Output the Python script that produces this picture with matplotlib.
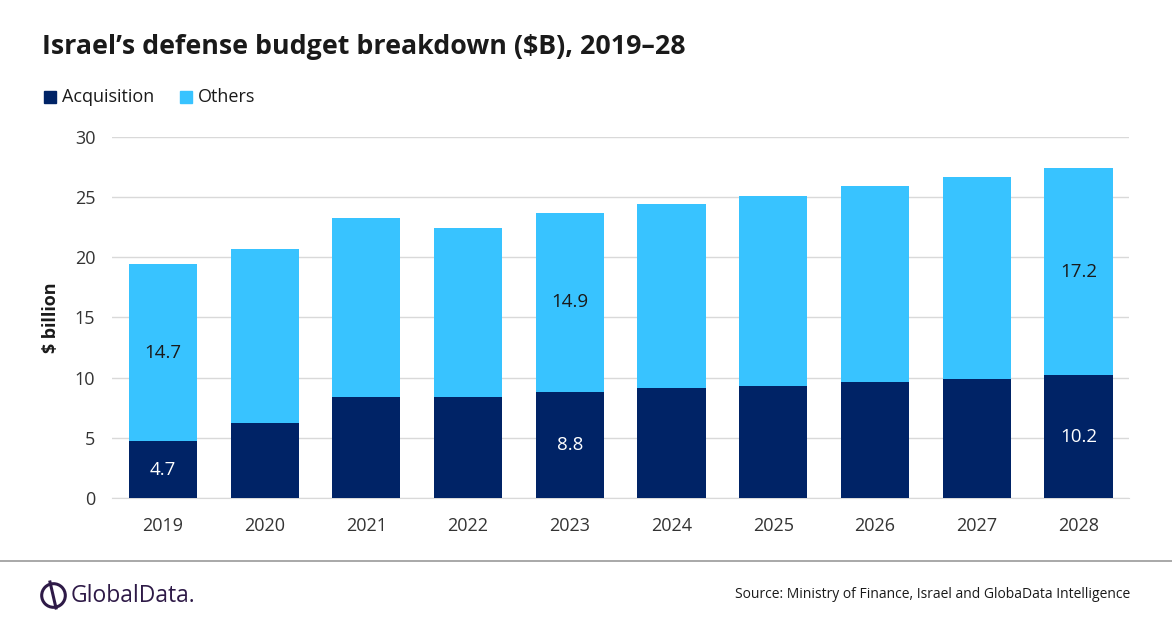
import matplotlib.pyplot as plt
import numpy as np
from matplotlib.lines import Line2D

plt.rcParams['font.family'] = ['Open Sans', 'DejaVu Sans']

years = ['2019', '2020', '2021', '2022', '2023', '2024', '2025', '2026', '2027', '2028']
acquisition = [4.7, 6.2, 8.4, 8.4, 8.8, 9.1, 9.3, 9.6, 9.9, 10.2]
others = [14.7, 14.5, 14.9, 14.0, 14.9, 15.3, 15.8, 16.3, 16.8, 17.2]
labelled = ['2019', '2023', '2028']

dark = '#002366'
light = '#38C3FF'
text_col = '#1a1a1a'

fig = plt.figure(figsize=(11.72, 6.28), dpi=100)
ax = fig.add_axes([0.0956, 0.207, 0.868, 0.575])

x = np.arange(len(years))
ax.bar(x, acquisition, width=0.67, color=dark, zorder=3)
ax.bar(x, others, width=0.67, bottom=acquisition, color=light, zorder=3)

for i, yr in enumerate(years):
    if yr in labelled:
        ax.text(x[i], acquisition[i] / 2, f'{acquisition[i]:.1f}', ha='center', va='center',
                color='white', fontsize=13.5, zorder=4)
        ax.text(x[i], acquisition[i] + others[i] / 2, f'{others[i]:.1f}', ha='center', va='center',
                color=text_col, fontsize=13.5, zorder=4)

ax.set_xlim(-0.5, len(years) - 0.5)
ax.set_ylim(0, 30)
ax.set_yticks(range(0, 31, 5))
ax.set_xticks(x)
ax.set_xticklabels(years)
ax.tick_params(axis='both', length=0, labelsize=13, colors='#333333')
ax.tick_params(axis='x', pad=14)
ax.tick_params(axis='y', pad=12)
ax.grid(axis='y', color='#d9d9d9', linewidth=1, zorder=0)
for s in ['top', 'right', 'left']:
    ax.spines[s].set_visible(False)
ax.spines['bottom'].set_color('#d9d9d9')
ax.set_ylabel('$ billion', fontsize=13, fontweight='bold', color=text_col, labelpad=11)

fig.text(0.036, 0.925, 'Israel\u2019s defense budget breakdown ($B), 2019\u201328',
         fontsize=19.3, fontweight='bold', color=text_col, va='center')

# legend
fig.patches.append(plt.Rectangle((44 / 1172, 1 - 103 / 628), 12 / 1172, 12 / 628,
                                 color=dark, transform=fig.transFigure, figure=fig))
fig.text(62 / 1172, 1 - 97 / 628, 'Acquisition', fontsize=13, color=text_col, va='center')
fig.patches.append(plt.Rectangle((180 / 1172, 1 - 103 / 628), 12 / 1172, 12 / 628,
                                 color=light, transform=fig.transFigure, figure=fig))
fig.text(198 / 1172, 1 - 97 / 628, 'Others', fontsize=13, color=text_col, va='center')

# footer
fig.add_artist(Line2D([0, 1], [1 - 561 / 628, 1 - 561 / 628], color='#999999', linewidth=1.2))
fig.text(1130 / 1172, 1 - 594 / 628,
         'Source: Ministry of Finance, Israel and GlobaData Intelligence',
         fontsize=10, color=text_col, ha='right', va='center')

logo_col = '#2E1A47'
fig.add_artist(Line2D([53 / 1172], [1 - 595 / 628], marker='o', markersize=17,
                      markerfacecolor='none', markeredgecolor=logo_col, markeredgewidth=2.2))
fig.add_artist(Line2D([50 / 1172, 56 / 1172], [1 - 582 / 628, 1 - 608 / 628],
                      color=logo_col, linewidth=2.2))
fig.text(71 / 1172, 1 - 596 / 628, 'GlobalData.', fontsize=16.5, color=logo_col, va='center')

fig.savefig('out.png', dpi=100)
